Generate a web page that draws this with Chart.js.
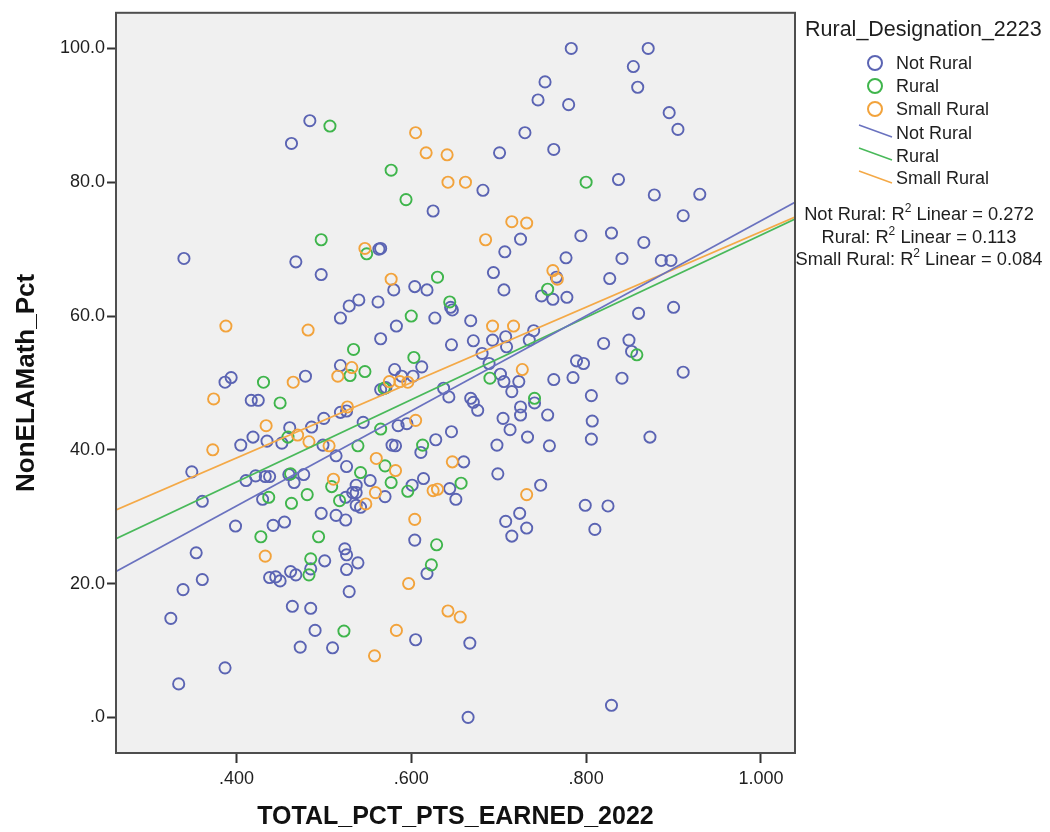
<!DOCTYPE html>
<html>
<head>
<meta charset="utf-8">
<script src="https://cdn.jsdelivr.net/npm/chart.js@4.4.1/dist/chart.umd.min.js"></script>
<style>
  html, body { margin: 0; padding: 0; background: #ffffff; }
  #wrap { position: relative; width: 1050px; height: 832px; font-family: 'Liberation Sans', Arial, sans-serif; color: #1e1e1e; }
  #chart { position: absolute; left: 0; top: 0; }
  .lg { position: absolute; white-space: nowrap; }
  .lg-title { font-size: 21.5px; line-height: 24px; }
  .lg-item { font-size: 18px; line-height: 20px; }
  .lg-r2 { font-size: 18.3px; line-height: 20px; transform: translateX(-50%); }
  .lg-r2 sup { font-size: 12px; position: relative; top: -2px; vertical-align: top; line-height: 12px; }
  #symbols { position: absolute; left: 0; top: 0; }
</style>
</head>
<body>
<div id="wrap">
  <canvas id="chart" width="1050" height="832"></canvas>
  <svg id="symbols" width="1050" height="832"></svg>
  <div id="legend"></div>
</div>
<script>
// School-level results: total percent of points earned (x) vs. non-ELA/Math percent (y)
const notRuralPoints = [
  [0.484,89.2],[0.463,85.8],[0.340,68.6],[0.468,68.1],
  [0.783,100.0],[0.753,95.0],[0.745,92.3],[0.780,91.6],[0.701,84.4],[0.730,87.4],[0.763,84.9],
  [0.682,78.8],[0.625,75.7],[0.725,71.5],[0.707,69.6],[0.777,68.7],[0.565,70.1],[0.563,70.0],
  [0.871,100.0],[0.854,97.3],[0.859,94.2],[0.895,90.4],[0.905,87.9],[0.837,80.4],[0.878,78.1],
  [0.930,78.2],[0.911,75.0],[0.794,72.0],[0.829,72.4],[0.866,71.0],[0.841,68.6],[0.886,68.3],[0.897,68.3],
  [0.497,66.2],[0.519,59.7],[0.519,52.6],[0.387,50.1],[0.394,50.8],[0.479,51.0],[0.417,47.4],[0.425,47.4],
  [0.461,43.3],[0.486,43.4],[0.500,44.7],[0.519,45.6],[0.419,41.9],[0.405,40.7],[0.435,41.3],[0.452,41.0],
  [0.499,40.7],[0.514,39.1],[0.349,36.7],[0.411,35.4],[0.422,36.1],[0.433,36.0],[0.438,36.0],[0.460,36.3],
  [0.477,36.3],[0.466,35.1],[0.361,32.3],[0.430,32.6],[0.497,30.5],
  [0.580,63.9],[0.604,64.4],[0.618,63.9],[0.694,66.5],[0.706,63.9],[0.766,65.8],[0.749,63.0],[0.762,62.5],
  [0.778,62.8],[0.529,61.5],[0.540,62.4],[0.562,62.1],[0.647,60.9],[0.645,61.3],[0.627,59.7],[0.583,58.5],
  [0.668,59.3],[0.565,56.6],[0.646,55.7],[0.671,56.3],[0.693,56.4],[0.708,56.9],[0.709,55.4],[0.740,57.8],
  [0.735,56.4],[0.612,52.4],[0.681,54.4],[0.689,52.9],[0.763,50.5],[0.581,52.0],[0.602,51.0],[0.565,49.0],
  [0.571,49.3],[0.589,51.0],[0.637,49.2],[0.643,47.9],[0.702,51.3],[0.706,50.2],[0.715,48.7],[0.723,50.2],
  [0.668,47.7],[0.671,47.1],[0.676,45.9],[0.741,47.0],[0.725,46.4],[0.725,45.2],[0.756,45.2],[0.526,45.8],
  [0.545,44.1],[0.585,43.6],[0.595,43.9],[0.705,44.7],[0.713,43.0],[0.733,41.9],[0.758,40.6],[0.628,41.5],
  [0.646,42.7],[0.698,40.7],[0.578,40.7],[0.582,40.6],[0.611,39.6],[0.660,38.2],[0.699,36.4],[0.526,37.5],
  [0.553,35.4],[0.614,35.7],[0.537,34.7],[0.537,33.6],[0.570,33.0],[0.601,34.7],[0.644,34.2],[0.651,32.6],
  [0.748,34.7],[0.525,32.9],[0.533,33.6],[0.537,31.7],[0.542,31.4],[0.724,30.5],
  [0.827,65.6],[0.860,60.4],[0.900,61.3],[0.820,55.9],[0.849,56.4],[0.852,54.7],[0.789,53.3],[0.797,52.9],
  [0.911,51.6],[0.785,50.8],[0.841,50.7],[0.806,48.1],[0.807,44.3],[0.806,41.6],[0.873,41.9],[0.799,31.7],[0.825,31.6],
  [0.399,28.6],[0.442,28.7],[0.455,29.2],[0.354,24.6],[0.514,30.2],[0.501,23.4],[0.485,22.2],[0.361,20.6],
  [0.339,19.1],[0.438,20.9],[0.445,21.0],[0.450,20.4],[0.462,21.8],[0.468,21.3],[0.325,14.8],[0.464,16.6],
  [0.485,16.3],[0.490,13.0],[0.473,10.5],[0.510,10.4],[0.387,7.4],[0.334,5.0],
  [0.525,29.5],[0.604,26.5],[0.618,21.5],[0.524,25.2],[0.526,24.3],[0.539,23.1],[0.526,22.1],[0.529,18.8],
  [0.605,11.6],[0.667,11.1],[0.665,0.0],[0.708,29.3],[0.732,28.3],[0.715,27.1],
  [0.810,28.1],[0.829,1.8]
];
const ruralPoints = [
  [0.507,88.4],[0.497,71.4],[0.577,81.8],[0.594,77.4],[0.549,69.3],[0.800,80.0],
  [0.431,50.1],[0.450,47.0],[0.459,41.9],[0.462,36.4],[0.509,34.5],[0.437,32.9],[0.481,33.3],[0.463,32.0],[0.518,32.4],
  [0.630,65.8],[0.756,64.0],[0.644,62.1],[0.600,60.0],[0.534,55.0],[0.603,53.8],[0.547,51.7],[0.530,51.1],
  [0.569,49.2],[0.690,50.7],[0.741,47.7],[0.565,43.1],[0.539,40.6],[0.613,40.7],[0.542,36.6],[0.570,37.6],
  [0.577,35.1],[0.596,33.8],[0.657,35.0],[0.858,54.2],
  [0.428,27.0],[0.494,27.0],[0.485,23.7],[0.483,21.3],[0.523,12.9],[0.629,25.8],[0.623,22.8]
];
const smallRuralPoints = [
  [0.605,87.4],[0.617,84.4],[0.641,84.1],[0.642,80.0],[0.662,80.0],[0.715,74.1],[0.732,73.9],[0.685,71.4],[0.547,70.1],
  [0.388,58.5],[0.482,57.9],[0.516,51.0],[0.465,50.1],[0.374,47.6],[0.434,43.6],[0.373,40.0],[0.470,42.2],
  [0.483,41.2],[0.506,40.6],[0.511,35.6],
  [0.577,65.5],[0.762,66.8],[0.767,65.5],[0.693,58.5],[0.717,58.5],[0.727,52.0],[0.532,52.3],[0.575,50.2],
  [0.587,50.2],[0.596,50.1],[0.527,46.4],[0.605,44.4],[0.560,38.7],[0.647,38.2],[0.582,36.9],[0.559,33.6],
  [0.625,33.9],[0.630,34.1],[0.732,33.3],[0.548,31.9],
  [0.433,24.1],[0.604,29.6],[0.597,20.0],[0.583,13.0],[0.558,9.2],[0.642,15.9],[0.656,15.0]
];

// Linear fit lines per group, as end points across the x range
const fitNotRural   = [[0.2623, 21.8], [1.0389, 77.0]];
const fitRural      = [[0.2623, 26.7], [1.0389, 74.5]];
const fitSmallRural = [[0.2623, 31.0], [1.0389, 74.8]];

const groupNames = ['Not Rural', 'Rural', 'Small Rural'];
const rSquared = ['0.272', '0.113', '0.084'];
const legendTitle = 'Rural_Designation_2223';

const xRange = [0.2623, 1.0389];
const yRange = [-5.33, 105.33];
const xTickValues = [0.4, 0.6, 0.8, 1.0];
const xTickLabels = ['.400', '.600', '.800', '1.000'];
const yTickValues = [0, 20, 40, 60, 80, 100];
const yTickLabels = ['.0', '20.0', '40.0', '60.0', '80.0', '100.0'];
const xTitle = 'TOTAL_PCT_PTS_EARNED_2022';
const yTitle = 'NonELAMath_Pct';

const colors = { notRural: '#5b64b3', rural: '#3fb54c', smallRural: '#f2a33c' };
const lineColors = { notRural: '#6a72bf', rural: '#49b95a', smallRural: '#f4a947' };
const FONT = "'Liberation Sans', Arial, sans-serif";

const toXY = arr => arr.map(p => ({ x: p[0], y: p[1] }));

function pointSet(label, pts, color, order) {
  return {
    type: 'scatter', label, data: toXY(pts), order,
    pointStyle: 'circle', pointRadius: 5.6, pointBorderWidth: 1.9,
    borderColor: color, backgroundColor: 'rgba(0,0,0,0)'
  };
}
function fitSet(label, pts, color) {
  return {
    type: 'line', label, data: toXY(pts), order: 0,
    borderColor: color, borderWidth: 1.6, pointRadius: 0, fill: false, tension: 0
  };
}

const plotFrame = {
  id: 'plotFrame',
  beforeDatasetsDraw(chart) {
    const { ctx, chartArea: a } = chart;
    ctx.save();
    ctx.fillStyle = '#f0f0f0';
    ctx.fillRect(a.left, a.top, a.right - a.left, a.bottom - a.top);
    ctx.restore();
  },
  afterDraw(chart) {
    const { ctx, chartArea: a } = chart;
    ctx.save();
    ctx.strokeStyle = '#4e4e4e';
    ctx.lineWidth = 2;
    ctx.strokeRect(a.left, a.top, a.right - a.left, a.bottom - a.top);
    ctx.restore();
  }
};

new Chart(document.getElementById('chart'), {
  type: 'scatter',
  data: {
    datasets: [
      fitSet(groupNames[0] + ' fit', fitNotRural, lineColors.notRural),
      fitSet(groupNames[1] + ' fit', fitRural, lineColors.rural),
      fitSet(groupNames[2] + ' fit', fitSmallRural, lineColors.smallRural),
      pointSet(groupNames[2], smallRuralPoints, colors.smallRural, 1),
      pointSet(groupNames[1], ruralPoints, colors.rural, 2),
      pointSet(groupNames[0], notRuralPoints, colors.notRural, 3)
    ]
  },
  options: {
    responsive: false,
    animation: false,
    events: [],
    layout: { padding: { left: 0, top: 6, right: 255, bottom: 0 } },
    plugins: { legend: { display: false }, tooltip: { enabled: false } },
    scales: {
      x: {
        type: 'linear', min: xRange[0], max: xRange[1],
        afterBuildTicks: s => { s.ticks = xTickValues.map(v => ({ value: v })); },
        afterFit: s => { s.height = 79; },
        ticks: {
          font: { family: FONT, size: 18 }, color: '#1e1e1e', padding: 5, maxRotation: 0,
          callback: v => xTickLabels[xTickValues.indexOf(v)]
        },
        grid: { display: true, drawOnChartArea: false, drawTicks: true, tickLength: 10, tickColor: '#333', tickWidth: 2 },
        border: { display: false },
        title: { display: true, text: xTitle, color: '#111', font: { family: FONT, size: 25, weight: 'bold' }, padding: { top: 0, bottom: 0 } }
      },
      y: {
        type: 'linear', min: yRange[0], max: yRange[1],
        afterBuildTicks: s => { s.ticks = yTickValues.map(v => ({ value: v })); },
        afterFit: s => { s.width = 116; },
        ticks: {
          font: { family: FONT, size: 18 }, color: '#1e1e1e', padding: 2,
          callback: v => yTickLabels[yTickValues.indexOf(v)]
        },
        grid: { display: true, drawOnChartArea: false, drawTicks: true, tickLength: 9, tickColor: '#333', tickWidth: 2 },
        border: { display: false },
        title: { display: true, text: yTitle, color: '#111', font: { family: FONT, size: 26, weight: 'bold' }, padding: { top: 11, bottom: 0 } }
      }
    }
  },
  plugins: [plotFrame]
});

// Legend: marker key, fit-line key and R² notes
(function buildLegend() {
  const legend = document.getElementById('legend');
  const svg = document.getElementById('symbols');
  const NS = 'http://www.w3.org/2000/svg';
  const keyColors = [colors.notRural, colors.rural, colors.smallRural];
  const keyLineColors = [lineColors.notRural, lineColors.rural, lineColors.smallRural];

  const add = (cls, text, left, top) => {
    const d = document.createElement('div');
    d.className = 'lg ' + cls;
    d.textContent = text;
    d.style.left = left + 'px';
    d.style.top = top + 'px';
    legend.appendChild(d);
    return d;
  };

  add('lg-title', legendTitle, 805, 16.5);

  const markerY = [63, 86, 109];
  groupNames.forEach((name, i) => {
    const c = document.createElementNS(NS, 'circle');
    c.setAttribute('cx', 875); c.setAttribute('cy', markerY[i]); c.setAttribute('r', 7);
    c.setAttribute('fill', 'none'); c.setAttribute('stroke', keyColors[i]); c.setAttribute('stroke-width', 2);
    svg.appendChild(c);
    add('lg-item', name, 896, markerY[i] - 10);
  });

  const lineY = [125, 148, 171];
  const lineTextY = [132.5, 156, 178];
  groupNames.forEach((name, i) => {
    const l = document.createElementNS(NS, 'line');
    l.setAttribute('x1', 859); l.setAttribute('y1', lineY[i]);
    l.setAttribute('x2', 892); l.setAttribute('y2', lineY[i] + 12);
    l.setAttribute('stroke', keyLineColors[i]); l.setAttribute('stroke-width', 1.6);
    svg.appendChild(l);
    add('lg-item', name, 896, lineTextY[i] - 10);
  });

  const r2Y = [214, 236.5, 259];
  groupNames.forEach((name, i) => {
    const d = document.createElement('div');
    d.className = 'lg lg-r2';
    d.style.left = '919px';
    d.style.top = (r2Y[i] - 10) + 'px';
    d.appendChild(document.createTextNode(name + ': R'));
    const sup = document.createElement('sup');
    sup.textContent = '2';
    d.appendChild(sup);
    d.appendChild(document.createTextNode(' Linear = ' + rSquared[i]));
    legend.appendChild(d);
  });
})();
</script>
</body>
</html>
